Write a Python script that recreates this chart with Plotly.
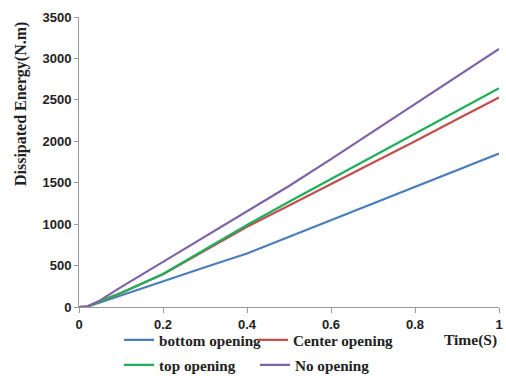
import plotly.graph_objects as go

# Time samples (s)
time_s = [0.0, 0.02, 0.05, 0.1, 0.2, 0.3, 0.4, 0.5, 0.6, 0.7, 0.8, 0.9, 1.0]

# Dissipated energy (N.m) for each opening position
bottom_opening = [0, 5, 55, 140, 315, 480, 645, 845, 1045, 1250, 1450, 1650, 1853]
center_opening = [0, 5, 70, 170, 395, 680, 968, 1225, 1480, 1740, 2000, 2265, 2528]
top_opening = [0, 5, 70, 170, 398, 695, 990, 1270, 1545, 1820, 2095, 2365, 2640]
no_opening = [0, 5, 80, 240, 545, 850, 1160, 1460, 1785, 2115, 2450, 2780, 3115]

y_ticks = [0, 500, 1000, 1500, 2000, 2500, 3000, 3500]
x_ticks = [0, 0.2, 0.4, 0.6, 0.8, 1]
x_tick_text = ["0", "0.2", "0.4", "0.6", "0.8", "1"]

SERIF = "Liberation Serif"
SANS = "Liberation Sans"
W, H = 506, 376

# name, values, colour, legend id, legend anchor (px from left, px from top)
series = [
    ("bottom opening", bottom_opening, "#4a7ebb", "legend", (119, 340)),
    ("Center opening", center_opening, "#c0504d", "legend2", (253, 340)),
    ("top opening", top_opening, "#1fae5a", "legend3", (119, 365)),
    ("No opening", no_opening, "#7f63a8", "legend4", (255, 365)),
]

legend_style = dict(
    orientation="h",
    xref="container", yref="container",
    xanchor="left", yanchor="middle",
    font=dict(family=SERIF, size=15.2, color="#222222", weight="bold"),
    bgcolor="rgba(0,0,0,0)", borderwidth=0,
    itemwidth=30,
)

fig = go.Figure()
legends = {}
for name, vals, color, leg, (lx, ly) in series:
    fig.add_trace(go.Scatter(
        x=time_s, y=vals, mode="lines", name=name,
        line=dict(color=color, width=2.2),
        legend=leg,
    ))
    legends[leg] = dict(x=lx / W, y=1 - ly / H, **legend_style)

fig.update_layout(
    width=W, height=H,
    margin=dict(l=79, r=7, t=17, b=69, autoexpand=False),
    paper_bgcolor="white", plot_bgcolor="white",
    showlegend=True,
    **legends,
    xaxis=dict(
        range=[0, 1], tickvals=x_ticks, ticktext=x_tick_text,
        showgrid=False, zeroline=False, automargin=False,
        showline=True, linecolor="#9a9a9a", linewidth=1,
        ticks="outside", ticklen=5, tickcolor="#9a9a9a",
        tickfont=dict(family=SANS, size=13, color="#222222", weight="bold"),
    ),
    yaxis=dict(
        range=[0, 3500], tickvals=y_ticks,
        showgrid=False, zeroline=False, automargin=False,
        showline=True, linecolor="#9a9a9a", linewidth=1,
        ticks="outside", ticklen=4, tickcolor="#9a9a9a",
        tickfont=dict(family=SANS, size=13, color="#222222", weight="bold"),
    ),
    annotations=[
        dict(text="Dissipated Energy(N.m)", textangle=-90,
             xref="paper", yref="paper", x=-0.138, y=0.70,
             xanchor="center", yanchor="middle", showarrow=False,
             font=dict(family=SERIF, size=16, color="#222222", weight="bold")),
        dict(text="Time(S)", xref="paper", yref="paper",
             x=1.0, y=-0.114, xanchor="right", yanchor="middle",
             showarrow=False,
             font=dict(family=SERIF, size=15.5, color="#222222", weight="bold")),
    ],
)

fig.write_html("out.html")
